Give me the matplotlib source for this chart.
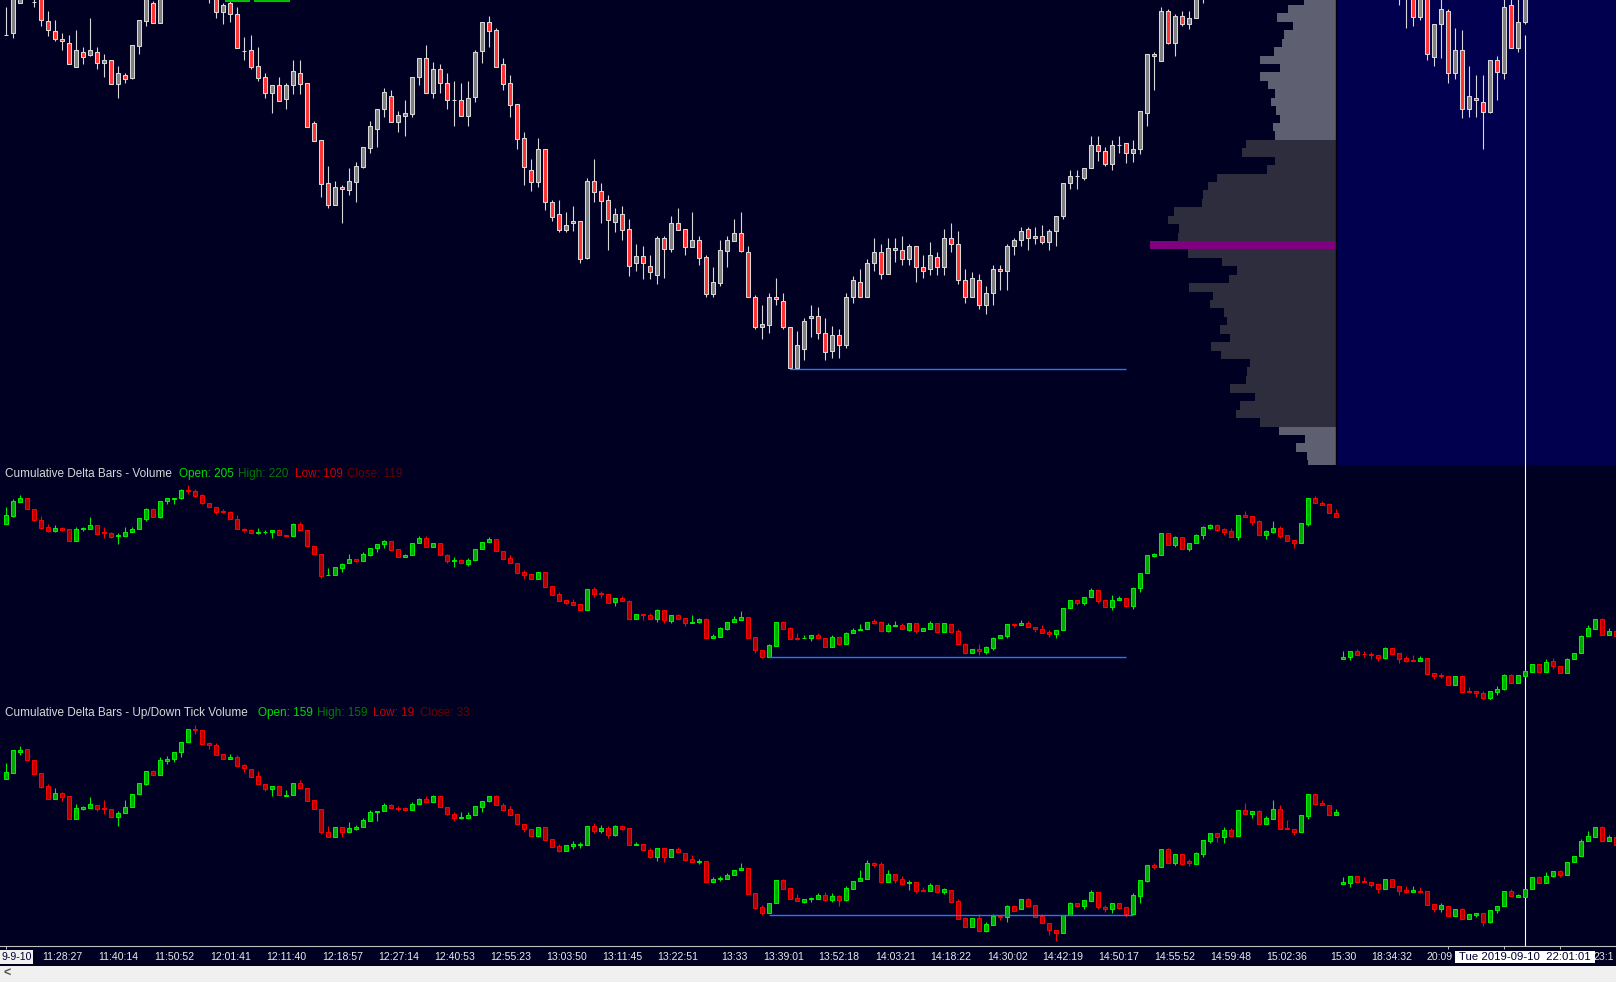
import numpy as np
import matplotlib.pyplot as plt
from matplotlib.patches import Rectangle

plt.rcParams['font.family'] = ['Liberation Sans', 'DejaVu Sans']

W, H = 1616, 982
BG = '#000022'

# ---- price bars (values are ticks below the reference level, so the axis is inverted) ----
price_o = [
    35.3, 33.3, 3.3, -3, 1.7, -3, 20.7, 30.7, 39.3, 43.3,
    66.7, 52.3, 55, 52.3, 62.7, 60.3, 83.7, 75.3, 77.7, 45.7,
    20.7, 3.3, 22.7, -5, -16, -25, -20, -28, -22, -15,
    -3, 11.7, 3.3, 14.3, 50.7, 50, 66, 77.3, 92.7, 85.3,
    98.7, 85.3, 73.3, 83.3, 123.3, 140.3, 183.3, 204.7, 187.3, 189.7,
    181.7, 166.7, 147.7, 128.7, 109.3, 96.3, 121.7, 115.7, 113.7, 77.3,
    58.3, 92.7, 69.3, 83.3, 100.3, 100.3, 115.7, 96.7, 50.7, 22.3,
    30.3, 64.3, 83.3, 104.3, 138.3, 170.3, 181.7, 149.3, 202.3, 214.3,
    229.7, 223.3, 221.3, 257.7, 181.3, 191.3, 200.3, 221.7, 214.3, 229.3,
    263.3, 255.7, 265.7, 274.7, 238.3, 248.7, 223.3, 229.3, 246.7, 240.3,
    257.3, 293.7, 282.7, 250.7, 240.7, 233.3, 252.3, 297.3, 326.7, 324.7,
    297.3, 301.3, 326.7, 367.7, 348.7, 318.3, 316, 333.3, 350.7, 335.3,
    345.3, 297.3, 282.3, 297.3, 263.3, 252.3, 274.3, 248.3, 250.3, 259.3,
    246.3, 267.3, 269.3, 257.3, 267.3, 238.3, 244.3, 280.3, 297.3, 280.3,
    305.3, 293.3, 269.3, 271.3, 246.3, 240.3, 229.3, 238.3, 236.3, 242.3,
    231.3, 216.3, 183.3, 176.3, 178.3, 168.3, 145.3, 151.3, 164.3, 145.3,
    143.3, 153.3, 149.3, 113.3, 54.3, 60.7, 11.3, 43.3, 16.3, 24.3,
    18.3, -6, -20, -28, -35, -44, -40, -58, -55, -50,
    -42, -46, -52, -44, -40, -38, -52, -70, -66, -64,
    -56, -40, -35, -40, -34, -32, -30, -24, -32, -20,
    -10, -5, 16.7, -3, 56.7, 24.3, 11.3, 73.3, 50.3, 109.3,
    98.3, 102.3, 111.7, 60.3, 73.3, 5.3, 47.7, 22.3, -5, -15,
    -10, -25, -20, -12, -28, -34, -48, -52, -60, -48,
    -52]
price_h = [
    7.3, -10, -8, -14, -4, -6, 11, 20, 33.3, 35,
    30, 46.7, 18, 46.7, 54, 60.3, 66, 73.3, 45, 20,
    -8, 1, -10, -22, -30, -35, -30, -38, -30, -25,
    -10, 3.3, -1, 6.7, 36.7, 35, 46.7, 73.3, 85.3, 77.3,
    83.3, 60, 60, 83.3, 121, 140.3, 166, 181, 185.3, 168.3,
    162, 147.3, 121, 109.3, 88, 90, 111, 100, 77.3, 58.3,
    45, 62, 64, 73.3, 81, 83, 81, 50, 22.3, 16,
    28.3, 58.3, 75, 104.3, 132, 159.3, 138, 149.3, 200, 200,
    212, 206, 221.3, 178, 159, 183, 195, 208.3, 206, 219,
    244, 246, 255.3, 235.7, 235.7, 216, 208.3, 229.3, 212, 236,
    255, 267, 240, 236, 219, 212, 246, 295, 305, 293,
    278, 293, 326.7, 331, 318.3, 305, 307, 318.3, 326, 329.3,
    293.3, 276, 269.3, 258.7, 238, 244, 238, 238, 236, 244.3,
    246.3, 255.3, 242.3, 252.3, 229.3, 223.3, 231.3, 269.3, 271.7, 274.3,
    286, 265.3, 265.3, 244.3, 238.3, 227.3, 227.3, 227.3, 225.3, 229.3,
    216.3, 183.3, 170.3, 170.3, 168.3, 136, 136, 147.3, 140, 136,
    143.3, 140, 111.3, 54.3, 52.3, 7.3, 9.3, 14.3, 11.3, 11.3,
    -10, -30, -35, -40, -48, -55, -62, -66, -60, -55,
    -52, -58, -55, -48, -44, -55, -75, -75, -70, -68,
    -62, -48, -45, -44, -40, -38, -34, -36, -35, -30,
    -25, -8, -8, -8, 24.3, -2, 9.3, 28.3, 30, 66,
    75, 75, 60.3, 56, -1, -2, -2, -8, -20, -22,
    -28, -30, -24, -30, -36, -50, -56, -62, -64, -55,
    -58]
price_l = [
    35.3, 38.3, 3.3, -1, 6.7, 25.7, 36, 40.7, 50, 64.3,
    66.7, 64, 55.7, 69, 76.7, 83.7, 97.7, 82.7, 79, 54,
    25.7, 22.7, 22.7, -2, -10, -18, -12, -20, -8, 2.7,
    17.7, 24, 21.7, 47.7, 60, 69, 81, 97.7, 112.7, 100.7,
    108.7, 94, 94, 126.7, 140.7, 196.7, 208, 204.7, 222.7, 195,
    201.7, 168, 152.7, 146.7, 116.7, 121.7, 131.7, 135.7, 116.7, 85,
    92.7, 97.7, 93.3, 108.7, 125.7, 115.7, 125.7, 101.7, 63.3, 46.7,
    66.7, 90, 116.7, 148.7, 185, 190.7, 186.7, 210, 220.7, 232.3,
    232.3, 230.7, 262.7, 258.7, 201.7, 222.7, 249.7, 232.3, 239.7, 275.7,
    270.7, 279.3, 279.3, 283.7, 277.7, 251.7, 229.7, 255, 246.7, 265,
    297, 297, 285.7, 267, 240.7, 252.3, 297.3, 329, 338.7, 332.7,
    304.7, 329, 369, 369, 360, 336.7, 338.7, 360, 357.7, 357.7,
    347.7, 302.7, 297.3, 297.3, 270.7, 279.3, 274.3, 262.3, 265, 265,
    281.7, 277.7, 275.3, 275.3, 275.3, 251.7, 283.7, 302.7, 297.3, 308.7,
    313.7, 304.7, 289.7, 289.7, 255, 246, 249.7, 243.7, 243.7, 249.7,
    245.7, 218.7, 188.7, 188.7, 180.3, 168.3, 161.3, 165.7, 169.7, 153.3,
    163.3, 161.7, 154.3, 125.7, 89.7, 60.7, 44.3, 55.7, 25.7, 29.3,
    18.3, 2.7, -8, -20, -30, -38, -36, -50, -45, -38,
    -38, -40, -40, -36, -30, -36, -50, -60, -60, -52,
    -50, -30, -28, -30, -28, -25, -20, -22, -18, 4.7,
    27.7, 25.7, 19.7, 60, 65.7, 57.7, 82.7, 78.7, 118.3, 116.7,
    116.7, 148.7, 112.7, 99.7, 78.7, 47.7, 51.7, 24, -2, -5,
    -8, -15, -8, -10, -25, -30, -44, -48, -45, -44,
    -46]
price_c = [
    35, -5, -3, -10, 1.5, 20, 30, 39.3, 41.3, 64.3,
    50, 56.7, 50, 62.7, 60, 83.7, 73.3, 79.3, 45, 20,
    -5, 22.7, -5, -16, -25, -20, -28, -22, -15, -8,
    11.7, 5, 14.3, 47.7, 50.5, 66.7, 77.7, 92.7, 85.3, 100.7,
    85.3, 71.3, 84, 126.7, 140.7, 183.7, 204.7, 187.3, 189.3, 181.3,
    166, 147.3, 126, 109.3, 92, 121.7, 115.3, 113.3, 77.3, 58.3,
    92.7, 69.3, 83.3, 100.3, 100, 115.7, 98.3, 52.3, 22.3, 30.7,
    66.7, 83.7, 104.7, 138.7, 166.7, 181.7, 149.3, 202.3, 216.7, 229.7,
    225.3, 221, 259.3, 181.3, 191.7, 200.7, 219.7, 214.3, 229.7, 265.7,
    255.7, 263.3, 271.7, 238.3, 248.7, 223.3, 229.7, 246.7, 240.3, 257.7,
    293.7, 282.3, 250.3, 240.3, 233.3, 250.7, 297.3, 326.7, 324.3, 297.3,
    299.3, 326.7, 367.7, 345.3, 320.7, 316, 333.3, 352.3, 335.3, 345.3,
    297.3, 280, 297.3, 263.3, 252.3, 274.3, 248.3, 250.3, 259.3, 246.3,
    267.3, 271.3, 255.3, 267.3, 238.3, 244.3, 280.3, 297.3, 278.3, 305.3,
    293.3, 269.3, 271.3, 246.3, 240.3, 231.3, 238.3, 236.3, 242.3, 231.3,
    216.3, 183.3, 176.3, 176, 168.3, 145.3, 151.3, 164.3, 145.3, 145,
    153.3, 149.3, 111.3, 54.3, 56.3, 11.3, 43.3, 16.3, 24.3, 18.3,
    -6, -20, -28, -35, -44, -40, -58, -55, -50, -42,
    -46, -52, -44, -40, -38, -52, -70, -66, -64, -56,
    -54, -35, -40, -34, -32, -30, -24, -32, -20, -10,
    -5, 16.7, -3, 54.3, 24.3, 9.3, 73.3, 50.3, 109.3, 96.3,
    100.3, 111.7, 60.3, 71.7, 7.3, 47.7, 22.3, -3, -15, -10,
    -25, -20, -12, -28, -34, -48, -52, -60, -48, -52,
    -50]

# ---- cumulative delta (volume), inverted units ----
vol_o = [
    163, 137, 95, 84, 116, 149, 171, 183, 175, 176, 212, 178, 176, 166, 187, 189, 198, 199, 187, 178,
    146, 117, 140, 93, 86, 83, 60, 64, 75, 100, 110, 124, 127, 146, 178, 180, 189, 187, 186, 181,
    196, 199, 162, 181, 229, 253, 316, 316, 293, 280, 266, 272, 254, 233, 223, 213, 238, 262, 256, 220,
    205, 230, 220, 256, 272, 270, 283, 270, 236, 217, 207, 242, 264, 278, 307, 312, 328, 307, 349, 372,
    391, 396, 403, 419, 358, 369, 373, 397, 384, 394, 446, 433, 436, 448, 420, 452, 436, 445, 458, 455,
    448, 503, 500, 477, 457, 449, 442, 502, 541, 561, 527, 457, 475, 504, 505, 505, 495, 505, 530, 501,
    521, 490, 481, 478, 454, 456, 484, 467, 465, 479, 460, 484, 476, 459, 485, 463, 484, 522, 550, 537,
    545, 533, 505, 497, 462, 464, 459, 472, 478, 486, 493, 481, 415, 390, 400, 382, 361, 391, 410, 391,
    384, 407, 355, 310, 257, 254, 190, 224, 202, 238, 220, 196, 173, 166, 178, 184, 200, 136, 138, 153,
    194, 186, 175, 195, 210, 220, 161, 85, 99, 102, 129, 566, 560, 544, 551, 552, 556, 563, 535, 550,
    565, 570, 572, 564, 609, 616, 619, 644, 619, 664, 664, 670, 683, 665, 657, 616, 638, 617, 605, 583,
    607, 574, 587, 610, 568, 548, 499, 476, 448, 494, 484]
vol_h = [
    112, 88, 75, 84, 116, 138, 163, 166, 170, 176, 172, 171, 141, 166, 172, 186, 188, 172, 172, 145,
    113, 114, 94, 83, 84, 56, 45, 56, 72, 100, 110, 118, 124, 136, 173, 176, 175, 181, 181, 178,
    195, 158, 156, 181, 229, 253, 294, 292, 280, 253, 266, 246, 233, 223, 210, 213, 238, 251, 220, 197,
    198, 220, 220, 252, 262, 268, 265, 236, 217, 200, 207, 242, 256, 278, 300, 312, 306, 307, 349, 366,
    391, 388, 403, 358, 351, 363, 373, 384, 378, 391, 433, 433, 430, 418, 420, 436, 432, 445, 435, 445,
    444, 491, 471, 457, 437, 422, 442, 502, 541, 522, 457, 454, 472, 490, 496, 495, 490, 505, 495, 501,
    485, 475, 462, 456, 447, 454, 460, 453, 459, 460, 460, 474, 453, 459, 459, 463, 478, 519, 538, 522,
    528, 502, 496, 463, 458, 450, 453, 472, 466, 480, 480, 414, 390, 390, 382, 355, 361, 391, 375, 378,
    384, 350, 310, 256, 249, 190, 190, 198, 202, 220, 192, 168, 163, 161, 174, 174, 136, 123, 138, 150,
    179, 153, 169, 195, 210, 160, 85, 78, 94, 99, 117, 544, 544, 538, 543, 546, 556, 531, 533, 550,
    558, 556, 558, 564, 609, 610, 619, 619, 616, 651, 664, 663, 664, 649, 613, 612, 614, 600, 583, 583,
    568, 565, 587, 565, 548, 495, 465, 448, 444, 475, 484]
vol_l = [
    163, 140, 95, 116, 153, 178, 186, 186, 183, 212, 212, 183, 176, 191, 203, 203, 221, 199, 187, 178,
    152, 140, 143, 103, 103, 88, 73, 80, 103, 112, 131, 129, 146, 178, 187, 190, 193, 191, 205, 195,
    199, 199, 181, 229, 253, 323, 316, 316, 306, 280, 277, 272, 258, 245, 233, 239, 262, 262, 256, 220,
    230, 230, 256, 278, 290, 280, 287, 270, 236, 217, 242, 266, 278, 313, 326, 328, 328, 350, 374, 392,
    401, 404, 419, 419, 380, 383, 398, 407, 394, 446, 446, 449, 448, 455, 458, 458, 446, 467, 458, 458,
    503, 503, 500, 480, 457, 449, 503, 548, 563, 561, 527, 477, 506, 510, 505, 513, 505, 530, 530, 525,
    521, 490, 481, 478, 462, 484, 486, 467, 478, 482, 488, 484, 476, 485, 485, 485, 523, 553, 550, 554,
    551, 540, 505, 503, 470, 464, 472, 485, 488, 500, 503, 481, 415, 404, 404, 382, 398, 410, 419, 391,
    411, 416, 365, 310, 260, 254, 224, 230, 238, 243, 220, 206, 176, 182, 194, 200, 209, 140, 164, 194,
    206, 189, 203, 212, 233, 220, 167, 100, 104, 130, 140, 566, 570, 554, 561, 568, 572, 566, 551, 578,
    575, 572, 572, 611, 626, 625, 644, 644, 665, 665, 681, 696, 690, 675, 660, 638, 638, 622, 605, 607,
    607, 596, 610, 610, 568, 548, 499, 476, 494, 494, 497]
vol_c = [
    135, 92, 84, 116, 149, 173, 183, 173, 179, 212, 178, 174, 165, 191, 189, 200, 196, 186, 178, 145,
    117, 140, 94, 85, 84, 59, 62, 77, 100, 112, 125, 127, 146, 178, 181, 190, 186, 185, 181, 195,
    199, 162, 181, 229, 253, 319, 315, 292, 281, 268, 272, 253, 233, 223, 213, 239, 262, 255, 220, 205,
    230, 220, 256, 274, 270, 280, 270, 236, 217, 207, 242, 266, 278, 308, 315, 328, 306, 350, 374, 392,
    399, 404, 419, 358, 371, 373, 398, 384, 394, 446, 433, 436, 448, 420, 451, 436, 446, 458, 455, 448,
    503, 498, 475, 457, 447, 442, 503, 541, 561, 525, 457, 477, 506, 507, 503, 495, 505, 530, 501, 521,
    490, 480, 478, 456, 458, 484, 465, 465, 478, 460, 484, 474, 459, 485, 459, 485, 523, 550, 538, 543,
    531, 505, 496, 463, 465, 459, 472, 478, 488, 493, 480, 414, 390, 400, 382, 361, 392, 410, 391, 384,
    407, 355, 310, 256, 252, 190, 224, 202, 238, 220, 195, 172, 166, 179, 185, 200, 136, 140, 155, 194,
    184, 175, 197, 212, 220, 160, 85, 100, 104, 130, 140, 562, 544, 554, 553, 556, 563, 535, 551, 566,
    573, 572, 564, 611, 617, 619, 644, 619, 665, 665, 670, 683, 664, 656, 616, 638, 616, 604, 583, 607,
    575, 587, 610, 568, 548, 498, 475, 448, 494, 484, 497]

# ---- cumulative delta (up/down tick volume), inverted units ----
tick_o = [
    928, 908, 845, 838, 871, 910, 948, 986, 970, 978, 1046, 1016, 1013, 1006, 1014, 1018, 1040, 1028, 1012, 973,
    941, 903, 916, 872, 868, 846, 817, 776, 780, 819, 824, 853, 868, 861, 886, 898, 918, 943, 958, 949,
    977, 976, 939, 953, 991, 1018, 1085, 1101, 1071, 1085, 1076, 1071, 1052, 1027, 1024, 1004, 1013, 1015, 1020, 1002,
    986, 997, 979, 1012, 1031, 1044, 1044, 1036, 1010, 992, 979, 1004, 1018, 1033, 1063, 1077, 1097, 1071, 1107, 1128,
    1142, 1127, 1126, 1124, 1069, 1082, 1075, 1094, 1068, 1075, 1126, 1123, 1140, 1160, 1135, 1162, 1137, 1149, 1166, 1177,
    1173, 1237, 1228, 1228, 1216, 1201, 1193, 1270, 1310, 1330, 1300, 1230, 1254, 1284, 1295, 1288, 1286, 1275, 1289, 1278,
    1289, 1256, 1234, 1226, 1179, 1182, 1235, 1212, 1227, 1240, 1237, 1259, 1262, 1246, 1265, 1261, 1294, 1345, 1370, 1345,
    1382, 1364, 1338, 1342, 1308, 1318, 1288, 1306, 1338, 1360, 1380, 1390, 1334, 1300, 1307, 1292, 1267, 1311, 1316, 1300,
    1312, 1332, 1278, 1232, 1185, 1190, 1138, 1178, 1153, 1174, 1181, 1151, 1112, 1090, 1100, 1081, 1097, 1021, 1031, 1023,
    1061, 1046, 1018, 1075, 1077, 1085, 1037, 972, 1000, 1005, 1034, 1243, 1238, 1218, 1234, 1236, 1243, 1257, 1228, 1249,
    1261, 1265, 1262, 1264, 1303, 1316, 1309, 1337, 1318, 1348, 1334, 1330, 1355, 1321, 1309, 1262, 1280, 1280, 1258, 1220,
    1240, 1217, 1204, 1214, 1175, 1157, 1114, 1100, 1072, 1112, 1101]
tick_h = [
    880, 841, 828, 838, 871, 910, 942, 955, 966, 978, 1003, 1008, 982, 1006, 991, 1018, 1022, 991, 973, 938,
    903, 900, 861, 858, 847, 815, 777, 765, 780, 815, 819, 853, 851, 854, 882, 898, 903, 943, 949, 949,
    960, 939, 931, 953, 991, 1018, 1068, 1071, 1071, 1057, 1066, 1045, 1020, 1022, 1000, 1001, 1008, 1012, 997, 983,
    977, 976, 979, 1012, 1026, 1027, 1027, 1009, 992, 978, 975, 1000, 1008, 1033, 1063, 1077, 1071, 1071, 1107, 1122,
    1125, 1113, 1116, 1069, 1059, 1065, 1069, 1066, 1064, 1075, 1116, 1123, 1135, 1135, 1135, 1137, 1132, 1149, 1155, 1166,
    1173, 1220, 1217, 1209, 1199, 1180, 1193, 1270, 1305, 1299, 1230, 1227, 1254, 1272, 1287, 1280, 1269, 1266, 1270, 1274,
    1248, 1233, 1200, 1170, 1175, 1177, 1200, 1212, 1218, 1230, 1237, 1251, 1240, 1246, 1254, 1261, 1288, 1340, 1345, 1333,
    1355, 1333, 1338, 1305, 1305, 1288, 1285, 1306, 1332, 1360, 1380, 1334, 1297, 1300, 1290, 1260, 1267, 1305, 1300, 1300,
    1312, 1270, 1231, 1186, 1180, 1138, 1134, 1153, 1153, 1168, 1145, 1111, 1090, 1090, 1072, 1075, 1021, 1000, 1023, 1020,
    1039, 990, 1005, 1050, 1077, 1035, 972, 968, 990, 1005, 1017, 1220, 1218, 1218, 1221, 1236, 1243, 1228, 1228, 1249,
    1249, 1248, 1252, 1264, 1303, 1300, 1309, 1318, 1315, 1332, 1330, 1330, 1321, 1309, 1262, 1258, 1272, 1258, 1220, 1217,
    1207, 1204, 1200, 1175, 1157, 1108, 1083, 1072, 1068, 1094, 1101]
tick_l = [
    928, 908, 855, 871, 911, 955, 986, 986, 993, 1046, 1046, 1020, 1013, 1023, 1031, 1040, 1067, 1028, 1012, 973,
    945, 916, 916, 883, 876, 860, 817, 791, 826, 838, 855, 868, 868, 887, 905, 920, 943, 962, 979, 976,
    977, 976, 954, 992, 1018, 1093, 1101, 1101, 1102, 1085, 1080, 1071, 1052, 1052, 1024, 1014, 1023, 1023, 1020, 1002,
    997, 997, 1012, 1036, 1053, 1046, 1046, 1036, 1025, 996, 1006, 1020, 1034, 1063, 1087, 1097, 1100, 1109, 1130, 1145,
    1142, 1137, 1133, 1124, 1088, 1088, 1103, 1098, 1079, 1126, 1126, 1141, 1163, 1172, 1175, 1162, 1147, 1172, 1177, 1181,
    1237, 1237, 1234, 1228, 1216, 1201, 1271, 1318, 1335, 1330, 1300, 1256, 1286, 1294, 1298, 1295, 1286, 1292, 1295, 1308,
    1292, 1256, 1234, 1226, 1190, 1235, 1235, 1238, 1244, 1260, 1268, 1262, 1262, 1265, 1271, 1295, 1346, 1370, 1370, 1382,
    1385, 1366, 1349, 1355, 1322, 1318, 1307, 1340, 1360, 1394, 1414, 1390, 1334, 1312, 1318, 1292, 1318, 1325, 1328, 1318,
    1342, 1332, 1298, 1236, 1196, 1190, 1178, 1185, 1185, 1188, 1181, 1160, 1118, 1116, 1118, 1097, 1097, 1031, 1044, 1061,
    1061, 1046, 1076, 1078, 1095, 1085, 1046, 1001, 1006, 1034, 1034, 1243, 1251, 1235, 1237, 1251, 1269, 1257, 1250, 1275,
    1268, 1265, 1268, 1305, 1325, 1326, 1337, 1337, 1348, 1348, 1342, 1368, 1358, 1330, 1309, 1279, 1282, 1280, 1258, 1240,
    1240, 1221, 1221, 1214, 1175, 1157, 1114, 1100, 1112, 1112, 1124]
tick_c = [
    907, 841, 840, 871, 911, 951, 986, 968, 980, 1046, 1015, 1011, 1003, 1018, 1018, 1040, 1028, 1012, 973, 938,
    903, 916, 871, 866, 847, 816, 777, 781, 821, 826, 855, 868, 861, 887, 895, 920, 943, 958, 949, 976,
    975, 939, 954, 992, 1018, 1085, 1101, 1071, 1085, 1075, 1071, 1049, 1027, 1022, 1004, 1014, 1018, 1020, 1002, 987,
    997, 978, 1012, 1032, 1045, 1041, 1034, 1009, 992, 979, 1006, 1020, 1034, 1063, 1078, 1097, 1071, 1109, 1130, 1142,
    1125, 1122, 1122, 1069, 1082, 1075, 1094, 1069, 1076, 1126, 1121, 1141, 1160, 1135, 1162, 1137, 1147, 1169, 1177, 1173,
    1237, 1228, 1225, 1214, 1199, 1193, 1271, 1313, 1330, 1299, 1230, 1256, 1286, 1294, 1287, 1283, 1275, 1289, 1278, 1289,
    1253, 1233, 1224, 1179, 1185, 1235, 1212, 1229, 1241, 1235, 1262, 1262, 1245, 1265, 1257, 1295, 1346, 1370, 1345, 1382,
    1362, 1338, 1342, 1308, 1322, 1288, 1307, 1340, 1360, 1381, 1388, 1334, 1300, 1307, 1290, 1267, 1312, 1316, 1300, 1313,
    1332, 1276, 1231, 1186, 1190, 1138, 1178, 1153, 1181, 1179, 1150, 1111, 1090, 1100, 1081, 1097, 1021, 1031, 1023, 1061,
    1044, 1018, 1076, 1078, 1085, 1035, 972, 1001, 1006, 1034, 1025, 1237, 1218, 1235, 1237, 1244, 1257, 1228, 1250, 1263,
    1265, 1261, 1266, 1305, 1316, 1306, 1337, 1318, 1348, 1332, 1330, 1355, 1321, 1309, 1262, 1279, 1276, 1258, 1220, 1240,
    1217, 1204, 1214, 1175, 1157, 1114, 1099, 1072, 1112, 1101, 1124]

# ---- volume profile of the day session (rows from top) ----
profile_volume = [
    32.1, 48.2, 59.1, 43.1, 52.0, 54.0, 61.9, 75.9, 56.1, 75.9,
    68.0, 61.2, 65.0, 60.2, 56.1, 62.9, 61.2, 89.9, 94.0, 61.2,
    69.1, 119.0, 128.2, 133.0, 134.0, 162.1, 168.2, 156.9, 157.9, 186.0,
    148.0, 114.2, 99.1, 107.0, 147.0, 123.1, 126.2, 112.1, 109.1, 115.9,
    106.0, 125.1, 115.2, 86.2, 88.9, 89.9, 106.0, 81.0, 96.1, 100.2,
    75.9, 57.1, 31.1, 40.0, 29.1, 28.0]
value_area_rows = (17, 50)

# ---- time axis ----
tick_mark_bars = [0, 8, 16, 24, 32, 40, 48, 56, 64, 72, 80, 88, 96, 104, 111, 119, 127,
                  135, 143, 151, 159, 167, 175, 183, 191, 198, 206, 214, 222, 230]
time_label_bars = [8, 16, 24, 32, 40, 48, 56, 64, 72, 80, 88, 96, 104, 111, 119, 127,
                   135, 143, 151, 159, 167, 175, 183, 191, 198, 204.8]
time_labels = ['11:28:27', '11:40:14', '11:50:52', '12:01:41', '12:11:40',
               '12:18:57', '12:27:14', '12:40:53', '12:55:23', '13:03:50', '13:11:45',
               '13:22:51', '13:33', '13:39:01', '13:52:18', '14:03:21', '14:18:22',
               '14:30:02', '14:42:19', '14:50:17', '14:55:52', '14:59:48', '15:02:36',
               '15:30', '18:34:32', '20:09']
first_label = '9-9-10'
last_label = '23:1'
cursor_label = ' Tue 2019-09-10  22:01:01 '
cursor_bar = 217
session2_start = 191
price_low_bar, ref_end_price = 112, 160
delta_low_bar, ref_end_vol, ref_end_tick = 108, 160, 161

vol_title = ['Cumulative Delta Bars - Volume', 'Open: 205', 'High: 220', 'Low: 109', 'Close: 119']
tick_title = ['Cumulative Delta Bars - Up/Down Tick Volume', 'Open: 159', 'High: 159', 'Low: 19', 'Close: 33']


def px_axes(fig, x0, y0, x1, y1):
    return fig.add_axes([x0 / W, 1 - y1 / H, (x1 - x0) / W, (y1 - y0) / H])


def clean(ax):
    ax.set_facecolor('none')
    for s in ax.spines.values():
        s.set_visible(False)
    ax.set_xticks([])
    ax.set_yticks([])


def candles(ax, o, h, l, c, up_face, up_edge, dn_face, dn_edge, up_wick, dn_wick):
    o, h, l, c = (np.asarray(v, dtype=float) for v in (o, h, l, c))
    x = np.arange(len(o))
    up = c <= o  # inverted scale: smaller value is higher
    for m, face, edge, wick in ((up, up_face, up_edge, up_wick), (~up, dn_face, dn_edge, dn_wick)):
        ax.vlines(x[m], h[m], l[m], color=wick, lw=0.8, zorder=2)
        ax.bar(x[m], np.abs(c - o)[m], bottom=np.minimum(o, c)[m], width=0.6,
               color=face, edgecolor=edge, linewidth=0.75, zorder=3)


fig = plt.figure(figsize=(W / 100, H / 100), dpi=100, facecolor=BG)
xlim = ((0 - 6.33) / 7, (W - 6.33) / 7)

# price panel
ax_p = px_axes(fig, 0, 0, W, 465)
clean(ax_p)
ax_p.set_xlim(*xlim)
ax_p.set_ylim(465, 0)
ax_p.axvspan(session2_start - 1.05, xlim[1], color='#00004e', zorder=0, lw=0)
candles(ax_p, price_o, price_h, price_l, price_c,
        '#808080', '#d8d8d8', '#ff3333', '#d8d8d8', '#d8d8d8', '#d8d8d8')
ax_p.hlines(price_l[price_low_bar], price_low_bar, ref_end_price, color='#1f78ff', lw=1.0, zorder=4)
ax_p.hlines([0.6, 0.6], [31.2, 35.4], [34.8, 40.5], color='#00c000', lw=1.5, zorder=4)
ax_p.vlines(cursor_bar, 35, 465, color='#ffff80', lw=0.8, zorder=1)

# volume profile over the price panel
ax_vp = px_axes(fig, 0, 0, W, 465)
clean(ax_vp)
edge_px = (session2_start - 1) * 7 + 6.33
ax_vp.set_xlim(edge_px, edge_px - W)
ax_vp.set_ylim(0.5 + 460 / 8.43, 0.5 - 5 / 8.43)
rows = np.arange(len(profile_volume))
poc = int(np.argmax(profile_volume))
cols = []
for r in rows:
    if r == poc:
        cols.append('#800080')
    elif value_area_rows[0] <= r <= value_area_rows[1]:
        cols.append('#2d2d3d')
    else:
        cols.append('#5f5f72')
ax_vp.barh(rows, profile_volume, height=1.0, left=0, color=cols, lw=0)
ax_vp.axvline(0, color='#000010', lw=1.0)

# cumulative delta - volume
ax_v = px_axes(fig, 0, 465, W, 700)
clean(ax_v)
ax_v.set_xlim(*xlim)
ax_v.set_ylim(690, -15)
candles(ax_v, vol_o, vol_h, vol_l, vol_c, '#00a800', '#00f000', '#b00000', '#ff0000', '#00f000', '#ff0000')
ax_v.hlines(vol_l[delta_low_bar] - 1, delta_low_bar + 1, ref_end_vol, color='#1f78ff', lw=1.0, zorder=4)
ax_v.axvline(cursor_bar, color='white', lw=0.8, zorder=1)

# cumulative delta - up/down tick volume
ax_t = px_axes(fig, 0, 700, W, 946)
clean(ax_t)
ax_t.set_xlim(*xlim)
ax_t.set_ylim(1428, 690)
candles(ax_t, tick_o, tick_h, tick_l, tick_c, '#00a800', '#00f000', '#b00000', '#ff0000', '#00f000', '#ff0000')
ax_t.hlines(tick_l[delta_low_bar], delta_low_bar + 1, ref_end_tick, color='#1f78ff', lw=1.0, zorder=4)
ax_t.axvline(cursor_bar, color='white', lw=0.8, zorder=1)

# time axis on the bottom spine
ax_t.spines['bottom'].set_visible(True)
ax_t.spines['bottom'].set_color('#c0c0c0')
ax_t.spines['bottom'].set_linewidth(0.8)
ax_t.set_xticks(tick_mark_bars, minor=True)
ax_t.set_xticks(time_label_bars)
ax_t.set_xticklabels(time_labels)
ax_t.tick_params(axis='x', which='minor', colors='#c0c0c0', length=2.2, width=0.7)
ax_t.tick_params(axis='x', which='major', length=0, pad=4.4,
                 labelsize=7.6, labelcolor='#e8e8e8')

lab_y = -(957 - 946) / 246
xform = ax_t.get_xaxis_transform()
ax_t.text(xlim[0] + 1.5 / 7, lab_y, first_label, transform=xform, ha='left', va='center',
          fontsize=7.6, color='#000030',
          bbox=dict(boxstyle='square,pad=0.15', fc='#f0f0f0', ec='none'))
ax_t.text(cursor_bar, lab_y, cursor_label, transform=xform, ha='center', va='center',
          fontsize=8.2, color='#000030', zorder=6,
          bbox=dict(boxstyle='square,pad=0.1', fc='#ffffff', ec='none'))
ax_t.text(xlim[0] + 1594 / 7, lab_y, last_label, transform=xform, ha='left', va='center',
          fontsize=7.6, color='#e8e8e8')

# panel titles
title_cols = ['#d8d8d8', '#00dd00', '#007a00', '#d00000', '#6a0000']
for parts, y, xs in ((vol_title, 474, [5, 179, 238, 295, 347]),
                     (tick_title, 713, [5, 258, 317, 373, 420])):
    for s, x, col in zip(parts, xs, title_cols):
        fig.text(x / W, 1 - y / H, s, color=col, fontsize=8.5, va='center', ha='left')

# scroll bar
fig.patches.append(Rectangle((0, 0), 1, 16 / H, transform=fig.transFigure,
                             facecolor='#f0f0f0', edgecolor='none'))
fig.text(7 / W, 1 - 974 / H, '<', color='#505050', fontsize=9, fontweight='bold',
         va='center', ha='center')

fig.savefig('out.png', dpi=100, facecolor=BG)
